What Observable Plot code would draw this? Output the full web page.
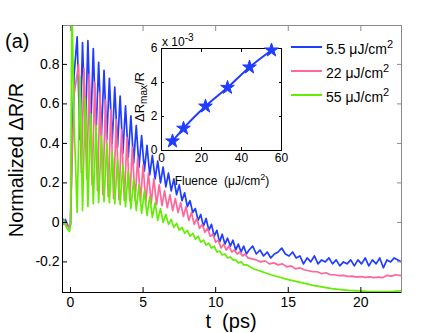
<!DOCTYPE html>
<html><head><meta charset="utf-8">
<script src="https://cdn.jsdelivr.net/npm/d3@7"></script>
<script src="https://cdn.jsdelivr.net/npm/@observablehq/plot@0.6"></script>
<style>
body{margin:0;background:#fff;font-family:"Liberation Sans",Arial,Helvetica,sans-serif;}
#wrap{position:relative;width:443px;height:333px;overflow:hidden;background:#fff;}
#wrap svg{position:absolute;}
.lbl{position:absolute;white-space:pre;color:#000;line-height:1;}
</style></head><body><div id="wrap"></div>
<script>
// ---------- data ----------
const seriesNames = ["5.5 μJ/cm²", "22 μJ/cm²", "55 μJ/cm²"];
const seriesColors = ["#1f3cff", "#ff6699", "#62ee00"];
const xTicks = [0, 5, 10, 15, 20];
const yTicks = [-0.2, 0, 0.2, 0.4, 0.6, 0.8];

const tPre = [-0.55,-0.45,-0.35,-0.25,-0.15,-0.07,0,0.1,0.25];
const tOsc = [0.46,0.65,0.83,1.02,1.20,1.39,1.57,1.76,1.94,2.13,2.31,2.50,2.68,2.87,3.05,3.24,3.42,3.61,3.79,3.98,4.16,4.35,4.53,4.72,4.90,5.09,5.27,5.46,5.64,5.83,6.01,6.20,6.38,6.57,6.75,6.94,7.12,7.31,7.49,7.68,7.86,8.05,8.23,8.42,8.60,8.79,8.97,9.16,9.34,9.53,9.71,9.90,10.08,10.27,10.45,10.64,10.82,11.01,11.19,11.38,11.56,11.75,11.93,12.12];
const tOscPink = [0.56,0.75,0.93,1.12,1.30,1.49,1.67,1.86,2.04,2.23,2.41,2.60,2.78,2.97,3.15,3.34,3.52,3.71,3.89,4.08,4.26,4.45,4.63,4.82,5.00,5.19,5.37,5.56,5.74,5.93,6.11,6.30,6.48,6.67,6.85,7.04,7.22,7.41,7.59,7.78,7.96,8.15,8.33,8.52,8.70,8.89,9.07,9.26,9.44,9.63,9.81,10.00,10.18,10.37,10.55,10.74,10.92,11.11,11.29,11.48,11.66,11.85,12.03,12.22];

const bluePre = [0.02,0.0,0.015,-0.005,-0.02,-0.03,-0.01,0.35,0.75];
const blueOsc = [.94,.42,.91,.45,.92,.46,.88,.45,.81,.44,.77,.42,.73,.40,.685,.38,.64,.35,.59,.33,.54,.30,.49,.28,.44,.26,.39,.24,.34,.22,.31,.20,.28,.18,.25,.16,.22,.14,.19,.11,.15,.08,.11,.05,.07,.01,.04,-.02,.02,-.04,-.01,-.07,-.04,-.10,-.06,-.11,-.08,-.12,-.09,-.14,-.11,-.15,-.12,-.16];
const blueLateT = [12.3,12.55,12.8,13.05,13.3,13.55,13.8,14.05,14.3,14.55,14.8,15.05,15.3,15.55,15.8,16.05,16.3,16.55,16.8,17.05,17.3,17.55,17.8,18.05,18.3,18.55,18.8,19.05,19.3,19.55,19.8,20.05,20.3,20.55,20.8,21.05,21.3,21.55,21.8,22.05,22.3,22.55,22.8];
const blueLateV = [-0.14,-0.12,-0.16,-0.14,-0.17,-0.15,-0.18,-0.16,-0.15,-0.13,-0.16,-0.17,-0.15,-0.18,-0.17,-0.21,-0.18,-0.20,-0.17,-0.21,-0.19,-0.20,-0.18,-0.21,-0.19,-0.22,-0.20,-0.21,-0.19,-0.22,-0.19,-0.21,-0.18,-0.22,-0.19,-0.21,-0.18,-0.23,-0.19,-0.20,-0.18,-0.19,-0.20];

const pinkPre = [0.01,-0.01,0.0,-0.015,-0.02,-0.03,-0.01,0.3,0.65];
const pinkOsc = [.80,.25,.78,.22,.75,.19,.71,.16,.66,.14,.62,.13,.57,.12,.52,.115,.47,.11,.43,.11,.38,.11,.33,.105,.29,.10,.25,.095,.22,.09,.19,.085,.16,.075,.14,.06,.12,.05,.10,.03,.08,.01,.05,-.01,.02,-.03,-.01,-.05,-.03,-.07,-.06,-.10,-.09,-.13,-.11,-.14,-.12,-.15,-.14,-.16,-.15,-.17,-.16,-.18];
const pinkLateT = [12.5,12.8,13.1,13.4,13.7,14.0,14.3,14.6,14.9,15.2,15.5,15.8,16.1,16.4,16.7,17.0,17.3,17.6,17.9,18.2,18.5,18.8,19.1,19.4,19.7,20.0,20.3,20.6,20.9,21.2,21.5,21.8,22.1,22.4,22.8];
const pinkLateV = [-0.185,-0.19,-0.2,-0.195,-0.21,-0.205,-0.215,-0.21,-0.225,-0.22,-0.235,-0.23,-0.24,-0.245,-0.25,-0.25,-0.26,-0.255,-0.265,-0.265,-0.27,-0.268,-0.273,-0.272,-0.277,-0.275,-0.278,-0.276,-0.28,-0.277,-0.28,-0.268,-0.272,-0.265,-0.27];

const greenPre = [0.0,0.01,-0.01,-0.03,-0.04,-0.045,-0.02,1.1,0.5];
const greenOsc = [.05,.74,.06,.63,.08,.55,.095,.49,.10,.44,.105,.40,.10,.36,.095,.32,.09,.29,.08,.26,.07,.22,.06,.19,.045,.16,.035,.13,.025,.10,.01,.07,0,.04,-.01,.015,-.025,-.005,-.04,-.025,-.055,-.04,-.07,-.055,-.085,-.07,-.10,-.09,-.115,-.105,-.13,-.12,-.15,-.145,-.165,-.16,-.18,-.175,-.19,-.19,-.205,-.2,-.215,-.215];
const greenLateT = [12.6,13.2,13.8,14.4,15,15.6,16.2,16.8,17.4,18,18.6,19.2,19.8,20.4,21,21.6,22.2,22.8];
const greenLateV = [-0.235,-0.25,-0.265,-0.278,-0.29,-0.3,-0.31,-0.32,-0.328,-0.335,-0.34,-0.344,-0.347,-0.349,-0.35,-0.35,-0.349,-0.347];

// inset
const fluence = [5.5, 11, 22, 33, 44, 55];
const dRmax = [0.55, 1.3, 2.6, 3.7, 4.9, 5.9];
const insetXTicks = [0, 20, 40, 60];
const insetYTicks = [0, 2, 4, 6];

// ---------- build ----------
const rows = [];
function addSeries(name, ts, vs){ ts.forEach((t,i)=>rows.push({series:name, t, v:vs[i]})); }
addSeries(seriesNames[0], tPre.concat(tOsc, blueLateT), bluePre.concat(blueOsc, blueLateV));
addSeries(seriesNames[1], tPre.concat(tOscPink, pinkLateT), pinkPre.concat(pinkOsc, pinkLateV));
addSeries(seriesNames[2], tPre.concat(tOsc, greenLateT), greenPre.concat(greenOsc, greenLateV));

const xDom = [-0.55, 22.8], yDom = [-0.355, 0.997];
const fmt = d => d === 0 ? "0" : (Number.isInteger(d) ? String(d) : d.toFixed(1));

const wrap = document.getElementById("wrap");
const main = Plot.plot({
  width: 443, height: 333, marginLeft: 62, marginRight: 42, marginTop: 25, marginBottom: 41,
  style: {fontFamily: "'Liberation Sans', Arial, sans-serif", fontSize: "14px", background: "transparent", overflow: "visible"},
  x: {domain: xDom},
  y: {domain: yDom},
  color: {domain: seriesNames, range: seriesColors},
  marks: [
    Plot.line(rows, {x: "t", y: "v", z: "series", stroke: "series", strokeWidth: 1.7, clip: true}),
    Plot.frame({stroke: "#8a8a8a"}),
    Plot.ruleX([xDom[0]], {stroke: "#000"}),
    Plot.ruleY([yDom[0]], {stroke: "#000"}),
    Plot.axisX(xTicks, {anchor: "bottom", tickSize: -5, tickPadding: 10, tickFormat: fmt, label: null, fontSize: 14}),
    Plot.axisY(yTicks, {anchor: "left", tickSize: -5, tickPadding: 8, tickFormat: fmt, label: null, fontSize: 14}),
    Plot.axisX(xTicks, {anchor: "top", tickSize: -5, tickFormat: () => "", label: null, stroke: "#8a8a8a"}),
    Plot.axisY(yTicks, {anchor: "right", tickSize: -5, tickFormat: () => "", label: null, stroke: "#8a8a8a"})
  ]
});
main.style.left = "0px"; main.style.top = "0px";
wrap.appendChild(main);

const insetData = fluence.map((f,i)=>({f, d: dRmax[i]}));
const inset = Plot.plot({
  width: 160, height: 132, marginLeft: 21, marginRight: 19, marginTop: 8, marginBottom: 22,
  style: {fontFamily: "'Liberation Sans', Arial, sans-serif", fontSize: "12px", background: "transparent", overflow: "visible"},
  x: {domain: [0, 60]},
  y: {domain: [0, 6]},
  marks: [
    Plot.frame({stroke: "#000"}),
    Plot.line(insetData, {x: "f", y: "d", stroke: seriesColors[0], strokeWidth: 2, curve: "monotone-x"}),
    Plot.dot(insetData, {x: "f", y: "d", symbol: "star", r: 4.3, fill: seriesColors[0], stroke: seriesColors[0], strokeWidth: 1}),
    Plot.axisX(insetXTicks, {anchor: "bottom", tickSize: -3, tickPadding: 6, label: null, fontSize: 12}),
    Plot.axisY(insetYTicks, {anchor: "left", tickSize: -3, tickPadding: 7, label: null, fontSize: 12}),
    Plot.axisX(insetXTicks, {anchor: "top", tickSize: -3, tickFormat: () => "", label: null}),
    Plot.axisY(insetYTicks, {anchor: "right", tickSize: -3, tickFormat: () => "", label: null})
  ]
});
inset.style.left = "140px"; inset.style.top = "40px";
wrap.appendChild(inset);

// ---------- text labels ----------
function lbl(html, css){ const d = document.createElement("div"); d.className = "lbl"; d.innerHTML = html; Object.assign(d.style, css); wrap.appendChild(d); return d; }
lbl("(a)", {left: "5px", top: "31px", fontSize: "20px"});
lbl("Normalized ΔR/R", {left: "16px", top: "160px", fontSize: "20px", transform: "translate(-50%,-50%) rotate(-90deg)"});
lbl("t  (ps)", {left: "231px", top: "311px", fontSize: "20px", transform: "translateX(-50%)"});
lbl("x 10<sup style='font-size:10px;vertical-align:5px'>-3</sup>", {left: "162px", top: "33px", fontSize: "12px"});
lbl("ΔR<sub style='font-size:10px;vertical-align:-3px'>max</sub>/R", {left: "141px", top: "97px", fontSize: "13px", transform: "translate(-50%,-50%) rotate(-90deg)"});
lbl("Fluence  (μJ/cm<sup style='font-size:9px;vertical-align:5px'>2</sup>)", {left: "222px", top: "173px", fontSize: "12px", transform: "translateX(-50%)"});

// legend
const legY = [47, 71, 95];
seriesNames.forEach((name, i) => {
  const sw = document.createElement("div");
  Object.assign(sw.style, {position: "absolute", left: "291px", top: (legY[i] - 1) + "px", width: "31px", height: "2px", background: seriesColors[i]});
  wrap.appendChild(sw);
  const base = name.replace("²", "");
  lbl(base + "<sup style='font-size:11px;vertical-align:6px'>2</sup>", {left: "326px", top: (legY[i] - 8) + "px", fontSize: "14px"});
});
</script></body></html>
